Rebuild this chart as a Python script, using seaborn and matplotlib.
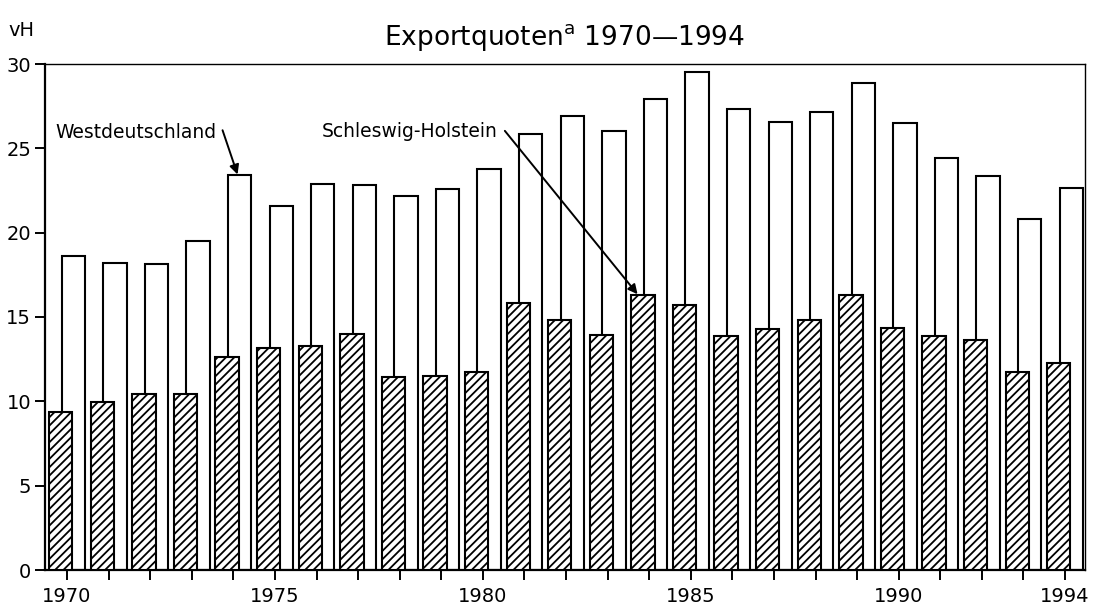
import matplotlib
matplotlib.use("Agg")
import matplotlib.pyplot as plt
import seaborn as sns
import numpy as np
import pandas as pd

years = list(range(1970, 1995))
westdeutschland = [18.6, 18.2, 18.15, 19.5, 23.4, 21.6, 22.9, 22.85, 22.2, 22.6,
                   23.8, 25.85, 26.9, 26.0, 27.9, 29.5, 27.35, 26.55, 27.15, 28.85,
                   26.5, 24.45, 23.35, 20.8, 22.65]
schleswig_holstein = [9.35, 9.95, 10.45, 10.45, 12.6, 13.15, 13.3, 14.0, 11.45, 11.5,
                      11.75, 15.85, 14.8, 13.95, 16.3, 15.7, 13.85, 14.3, 14.8, 16.3,
                      14.35, 13.9, 13.65, 11.75, 12.25]
labeled_years = [1970, 1975, 1980, 1985, 1990, 1994]
y_ticks = [0, 5, 10, 15, 20, 25, 30]
title = "Exportquoten$^{\\mathrm{a}}$ 1970\u20141994"
unit_label = "vH"
series_names = ["Westdeutschland", "Schleswig-Holstein"]

plt.rcParams['font.family'] = ['DejaVu Sans']
plt.rcParams['mathtext.fontset'] = 'dejavusans'
plt.rcParams['hatch.linewidth'] = 1.3
plt.rcParams['hatch.color'] = 'black'

offset = 0.15
bar_w = 0.56

df_w = pd.DataFrame({"x": np.array(years) + offset, "v": westdeutschland})
df_s = pd.DataFrame({"x": np.array(years) - offset, "v": schleswig_holstein})

fig = plt.figure(figsize=(10.96, 6.07), dpi=100)
ax = fig.add_axes([45/1096, 1 - 570/607, (1085 - 45)/1096, (570 - 64)/607])

sns.barplot(data=df_w, x="x", y="v", native_scale=True, width=bar_w, color="white",
            saturation=1, edgecolor="black", linewidth=1.5, errorbar=None, ax=ax, zorder=2)
sns.barplot(data=df_s, x="x", y="v", native_scale=True, width=bar_w, color="white",
            saturation=1, edgecolor="black", linewidth=1.5, hatch="////", errorbar=None,
            ax=ax, zorder=3)

ax.set_xlim(1969.47, 1994.48)
ax.set_ylim(0, 30)
ax.set_xticks(years)
ax.set_xticklabels([str(y) if y in labeled_years else "" for y in years])
ax.set_yticks(y_ticks)
ax.set_yticklabels([str(t) for t in y_ticks])
ax.set_xlabel("")
ax.set_ylabel("")
ax.tick_params(axis='both', direction='out', length=7, width=1.4, labelsize=14, pad=3,
               color='black', labelcolor='black')
ax.tick_params(axis='x', pad=5)
for side in ['left', 'bottom']:
    ax.spines[side].set_linewidth(1.6)
for side in ['top', 'right']:
    ax.spines[side].set_linewidth(1.0)
for s in ax.spines.values():
    s.set_color('black')

ax.set_title(title, fontsize=19, pad=14)
fig.text(8/1096, 1 - 31/607, unit_label, fontsize=14, ha='left', va='center')

ax.annotate(series_names[0], xy=(1974.1, 23.45), xytext=(1969.71, 25.96),
            fontsize=13.5, ha='left', va='center',
            arrowprops=dict(arrowstyle='-|>', color='black', lw=1.4, mutation_scale=14,
                            shrinkA=0, shrinkB=0, relpos=(1.04, 0.6)))
ax.annotate(series_names[1], xy=(1983.72, 16.35), xytext=(1976.13, 25.98),
            fontsize=13.5, ha='left', va='center',
            arrowprops=dict(arrowstyle='-|>', color='black', lw=1.4, mutation_scale=14,
                            shrinkA=0, shrinkB=0, relpos=(1.04, 0.55)))

fig.savefig("out.png", dpi=100)
